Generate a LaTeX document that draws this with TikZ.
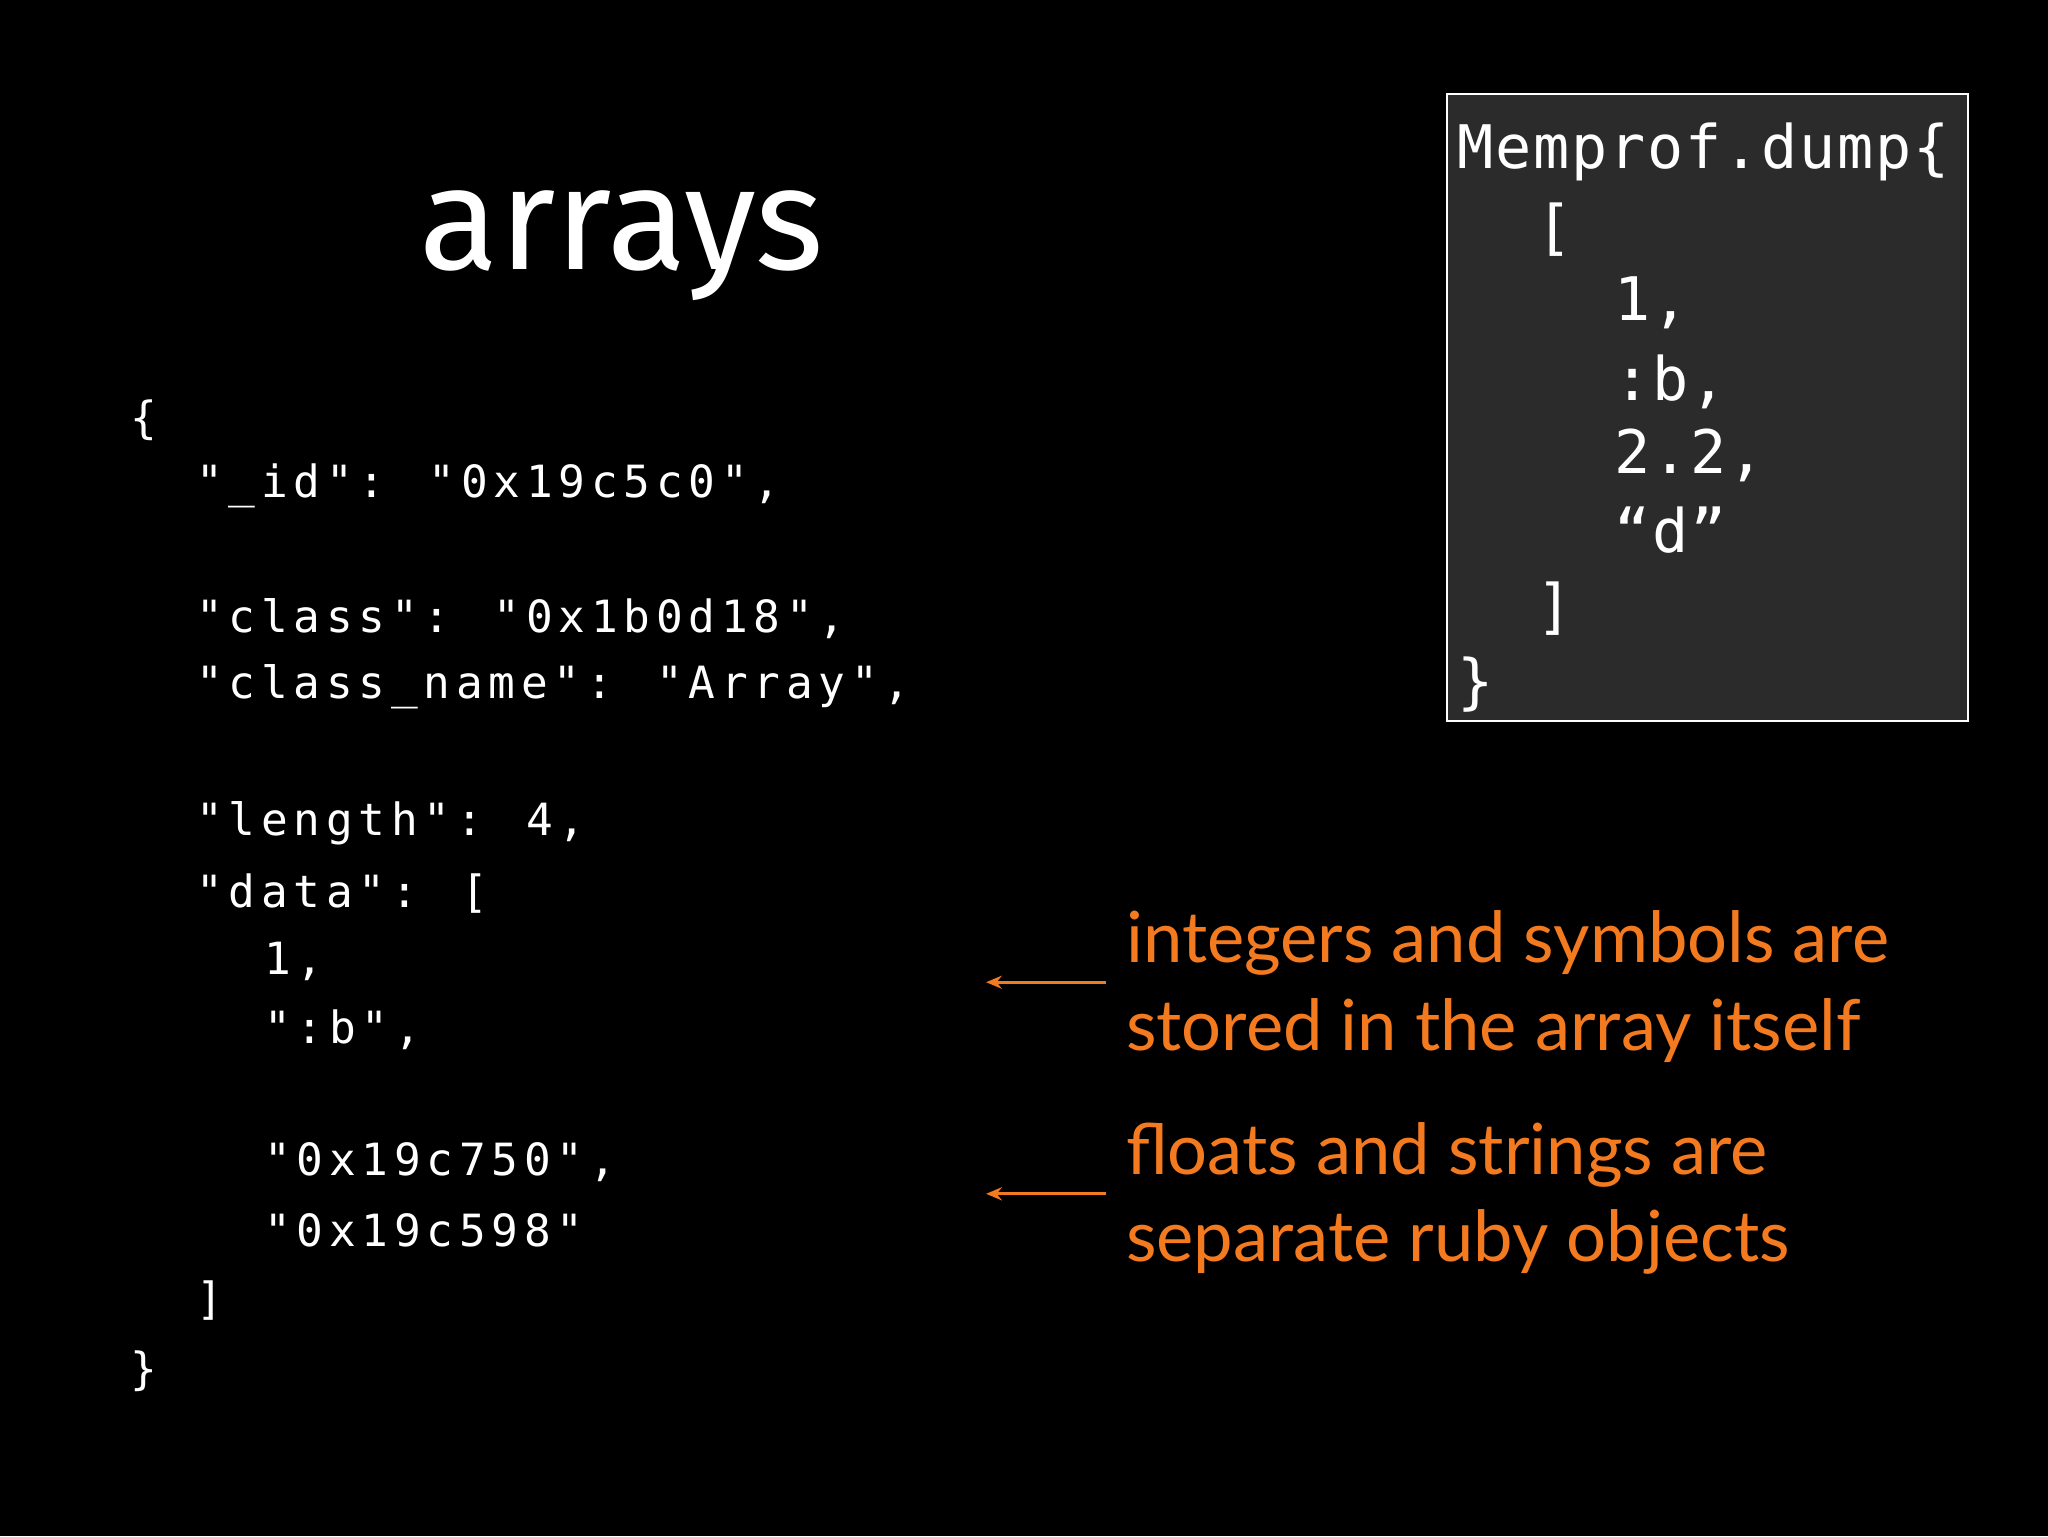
\documentclass[tikz,border=0pt]{standalone}
\usepackage{fontspec}
\usetikzlibrary{arrows.meta}
\setmainfont{Lato}
\newfontfamily\codefont[LetterSpace=13]{DejaVu Sans Mono}
\newfontfamily\boxfont[LetterSpace=3]{DejaVu Sans Mono}
\newfontfamily\titlefont{Fira Sans}
\definecolor{orng}{HTML}{F47A20}
\definecolor{boxgray}{HTML}{2B2B2B}
\begin{document}
\begin{tikzpicture}[x=1pt,y=-1pt,
  code/.style={anchor=west,inner sep=0,text=white,font=\codefont\fontsize{34}{34}\selectfont},
  bcode/.style={anchor=west,inner sep=0,text=white,font=\boxfont\fontsize{46}{46}\selectfont},
  note/.style={anchor=west,inner sep=0,text=orng,font=\fontsize{54}{54}\selectfont},
  arr/.style={draw=orng,line width=2.5pt,-{Stealth[length=12pt,width=10pt]}}]
\fill[black] (0,0) rectangle (1568,1176);
\node[text=white,font=\titlefont\fontsize{112}{112}\selectfont,inner sep=0] (title) at (476,188) {arrays};
\node[code] (c1) at (100,322) {\{};
\node[code] (c2) at (150,372) {"\_id": "0x19c5c0",};
\node[code] (c3) at (150,474) {"class": "0x1b0d18",};
\node[code] (c4) at (150,526) {"class\_name": "Array",};
\node[code] (c5) at (150,630) {"length": 4,};
\node[code] (c6) at (150,684) {"data": [};
\node[code] (c7) at (202,736) {1,};
\node[code] (c8) at (202,788) {":b",};
\node[code] (c9) at (202,890) {"0x19c750",};
\node[code] (c10) at (202,942) {"0x19c598"};
\node[code] (c11) at (150,996) {]};
\node[code] (c12) at (100,1050) {\}};
\draw[white,fill=boxgray,line width=1.5pt] (1108,72) rectangle (1507,552);
\node[bcode] (b1) at (1116,116) {Memprof.dump\{};
\node[bcode] (b2) at (1176,176) {[};
\node[bcode] (b3) at (1236,232) {1,};
\node[bcode] (b4) at (1236,292) {:b,};
\node[bcode] (b5) at (1236,349) {2.2,};
\node[bcode] (b6) at (1236,406) {“d”};
\node[bcode] (b7) at (1176,466) {]};
\node[bcode] (b8) at (1116,524) {\}};
\node[note] (n1) at (862,722) {integers and symbols are};
\node[note] (n2) at (862,789) {stored in the array itself};
\node[note] (n3) at (862,884) {floats and strings are};
\node[note] (n4) at (862,951) {separate ruby objects};
\coordinate (a1s) at (847,752); \coordinate (a1e) at (755,752);
\coordinate (a2s) at (847,914); \coordinate (a2e) at (755,914);
\draw[arr] (a1s) -- (a1e);
\draw[arr] (a2s) -- (a2e);
\end{tikzpicture}
\end{document}
